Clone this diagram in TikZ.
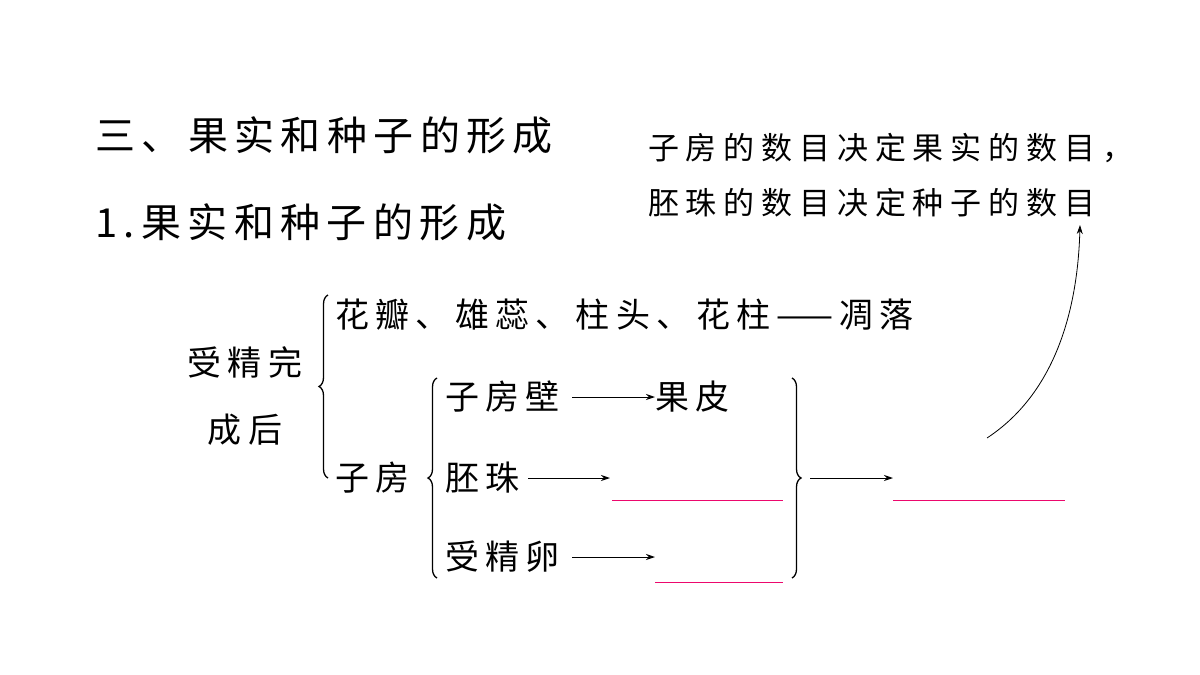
\documentclass[tikz,border=0pt]{standalone}
\usepackage{fontspec}
\setmainfont{Noto Sans CJK SC}
\newfontfamily\tfont[LetterSpace=18]{Noto Sans CJK SC}
\newfontfamily\hfont[LetterSpace=16]{Noto Sans CJK SC}
\newfontfamily\wfont[LetterSpace=22]{Noto Sans CJK SC}
\usetikzlibrary{decorations.pathreplacing,arrows.meta}
\begin{document}
\begin{tikzpicture}[x=1pt,y=-1pt,
  t/.style={inner sep=0pt,anchor=west,font=\tfont\fontsize{34}{36}\selectfont},
  h/.style={inner sep=0pt,anchor=west,font=\hfont\fontsize{40}{42}\selectfont},
  hw/.style={inner sep=0pt,anchor=west,font=\wfont\fontsize{31}{34}\selectfont},
  br/.style={decorate,decoration={brace,amplitude=9pt},line width=1.3pt},
  ar/.style={-{Stealth[length=9pt,width=6pt]},line width=1pt},
  bl/.style={draw=magenta!70!red,line width=0.8pt}]
\useasboundingbox (0,0) rectangle (1200,675);
\node[h] (t1) at (95,135) {三、果实和种子的形成};
\node[h] (t2) at (95,222) {1.果实和种子的形成};
\node[hw] (n1) at (648,148) {子房的数目决定果实的数目，};
\node[hw] (n2) at (648,203) {胚珠的数目决定种子的数目};
\node[t,anchor=center] (sj1) at (245,362) {受精完};
\node[t,anchor=center] (sj2) at (245,430) {成后};
\node[t] (hb) at (335,315) {花瓣、雄蕊、柱头、花柱——凋落};
\node[t] (zf) at (335,478) {子房};
\node[t] (zfb) at (445,397) {子房壁};
\node[t] (gp) at (655,397) {果皮};
\node[t] (pz) at (445,478) {胚珠};
\node[t] (sjl) at (445,557) {受精卵};
\coordinate (b1t) at (328,295); \coordinate (b1b) at (328,478);
\draw[br] (b1b) -- (b1t);
\draw[br] (437,578) -- (437,378);
\draw[br] (792,378) -- (792,578);
\coordinate (gs) at (572,397); \coordinate (ps) at (528,478); \coordinate (ss) at (572,557);
\draw[ar] (gs) -- (gp.west);
\coordinate (pe) at (610,478); \coordinate (se) at (655,557);
\draw[ar] (ps) -- (pe);
\draw[ar] (ss) -- (se);
\coordinate (rs) at (810,478); \coordinate (re) at (893,478);
\draw[ar] (rs) -- (re);
\draw[bl] (612,500) -- (783,500);
\draw[bl] (655,582) -- (783,582);
\draw[bl] (893,500) -- (1065,500);
\coordinate (cs) at (987,438);
\draw[ar,line width=0.8pt] (cs) .. controls (1060,390) and (1078,300) .. (1080,225);
\end{tikzpicture}
\end{document}
